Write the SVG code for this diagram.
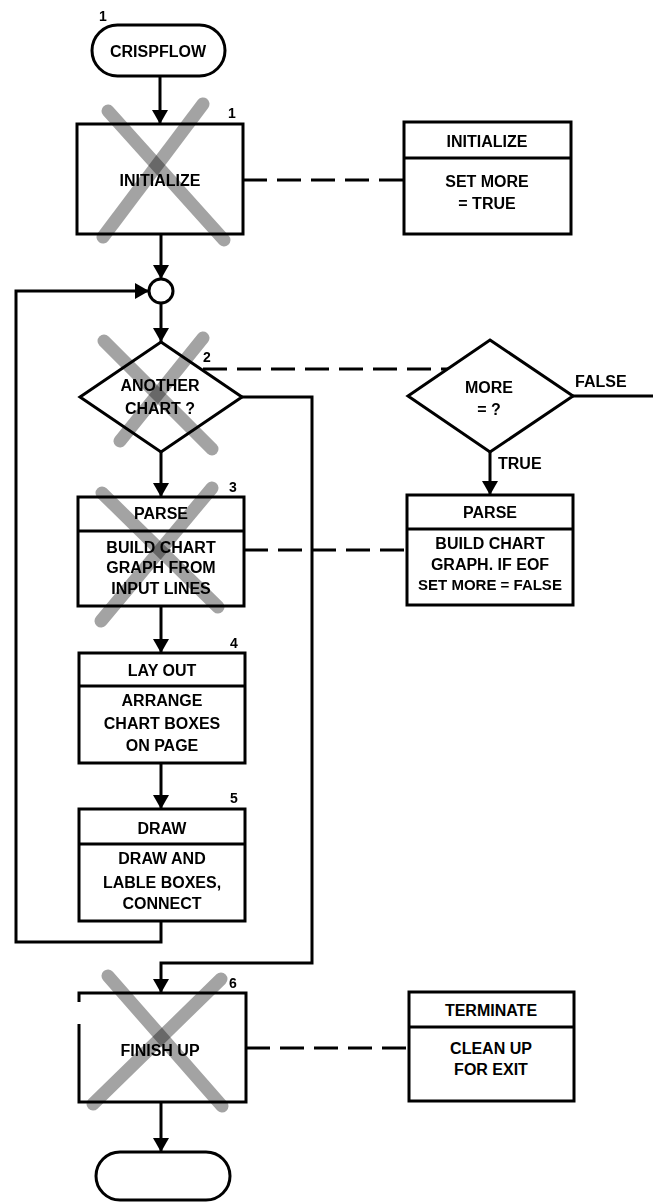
<svg xmlns="http://www.w3.org/2000/svg" width="653" height="1202" viewBox="0 0 653 1202">
<defs>
<style>
.box{fill:#fff;stroke:#000;stroke-width:3}
.ln{fill:none;stroke:#000;stroke-width:3}
.conn{fill:none;stroke:#000;stroke-width:3}
.dash{fill:none;stroke:#000;stroke-width:3;stroke-dasharray:24 10}
.t{font-family:"Liberation Sans",Arial,sans-serif;font-weight:bold;font-size:16px;text-anchor:middle;fill:#000}
.n{font-family:"Liberation Sans",Arial,sans-serif;font-weight:bold;font-size:14px;text-anchor:middle;fill:#000}
.lab{font-family:"Liberation Sans",Arial,sans-serif;font-weight:bold;font-size:16px;text-anchor:start;fill:#000}
.x{fill:none;stroke:#8c8c8c;stroke-width:13;stroke-linecap:round;opacity:0.8;mix-blend-mode:multiply}
</style>
<marker id="arr" viewBox="0 0 14 16" refX="14" refY="8" markerWidth="14" markerHeight="16" orient="auto" markerUnits="userSpaceOnUse">
<path d="M0,0 L14,8 L0,16 z" fill="#000"/>
</marker>
</defs>
<rect width="653" height="1202" fill="#fff"/>

<g id="connectors">
<line class="conn" x1="160" y1="76" x2="160" y2="124" marker-end="url(#arr)"/>
<line class="conn" x1="161" y1="234" x2="161" y2="279" marker-end="url(#arr)"/>
<line class="conn" x1="161" y1="303" x2="161" y2="342" marker-end="url(#arr)"/>
<line class="conn" x1="161" y1="452" x2="161" y2="497" marker-end="url(#arr)"/>
<line class="conn" x1="161" y1="606" x2="161" y2="653" marker-end="url(#arr)"/>
<line class="conn" x1="161" y1="763" x2="161" y2="809" marker-end="url(#arr)"/>
<polyline class="conn" points="161,921 161,942 16,942 16,291 149,291" marker-end="url(#arr)"/>
<polyline class="conn" points="242,397 312,397 312,963 161,963 161,993" marker-end="url(#arr)"/>
<line class="conn" x1="161" y1="1102" x2="161" y2="1152" marker-end="url(#arr)"/>
<line class="conn" x1="490" y1="452" x2="490" y2="495" marker-end="url(#arr)"/>
<line class="conn" x1="573" y1="396" x2="653" y2="396"/>
<line class="dash" x1="243" y1="180" x2="404" y2="180"/>
<line class="dash" x1="203" y1="369" x2="448" y2="369"/>
<line class="dash" x1="244" y1="550" x2="407" y2="550"/>
<line class="dash" x1="246" y1="1048" x2="409" y2="1048"/>
<text class="lab" x="575" y="387">FALSE</text>
<text class="lab" x="498" y="469">TRUE</text>
</g>

<g id="start">
<rect class="box" x="92" y="25" width="133" height="51" rx="25.5"/>
<text class="t" x="158" y="57">CRISPFLOW</text>
<text class="n" x="103" y="21">1</text>
</g>

<g id="initialize">
<rect class="box" x="77" y="124" width="166" height="110"/>
<text class="t" x="160" y="186">INITIALIZE</text>
<text class="n" x="232" y="118">1</text>
<line class="x" x1="108" y1="111" x2="224" y2="240"/>
<line class="x" x1="203" y1="104" x2="103" y2="237"/>
</g>

<g id="initialize-detail">
<rect class="box" x="404" y="122" width="167" height="112"/>
<line class="ln" x1="404" y1="158" x2="571" y2="158"/>
<text class="t" x="487" y="147">INITIALIZE</text>
<text class="t" x="487" y="187">SET MORE</text>
<text class="t" x="487" y="209">= TRUE</text>
</g>

<g id="junction">
<circle class="box" cx="161" cy="291" r="12"/>
</g>

<g id="another-chart">
<polygon class="box" points="161,342 242,397 161,452 80,397"/>
<text class="t" x="160" y="391">ANOTHER</text>
<text class="t" x="160" y="414">CHART ?</text>
<text class="n" x="207" y="362">2</text>
<line class="x" x1="104" y1="341" x2="212" y2="449"/>
<line class="x" x1="203" y1="338" x2="120" y2="441"/>
</g>

<g id="more-decision">
<polygon class="box" points="490,340 573,396 490,452 408,396"/>
<text class="t" x="489" y="393">MORE</text>
<text class="t" x="489" y="415">= ?</text>
</g>

<g id="parse">
<rect class="box" x="78" y="497" width="166" height="109"/>
<line class="ln" x1="78" y1="531" x2="244" y2="531"/>
<text class="t" x="161" y="519">PARSE</text>
<text class="t" x="161" y="553">BUILD CHART</text>
<text class="t" x="161" y="573">GRAPH FROM</text>
<text class="t" x="161" y="594">INPUT LINES</text>
<text class="n" x="233" y="492">3</text>
<line class="x" x1="102" y1="493" x2="218" y2="607"/>
<line class="x" x1="212" y1="488" x2="101" y2="621"/>
</g>

<g id="parse-detail">
<rect class="box" x="407" y="495" width="166" height="110"/>
<line class="ln" x1="407" y1="529" x2="573" y2="529"/>
<text class="t" x="490" y="518">PARSE</text>
<text class="t" x="490" y="549">BUILD CHART</text>
<text class="t" x="490" y="570">GRAPH. IF EOF</text>
<text class="t" x="490" y="590" style="font-size:15px">SET MORE = FALSE</text>
</g>

<g id="layout">
<rect class="box" x="79" y="653" width="166" height="110"/>
<line class="ln" x1="79" y1="686" x2="245" y2="686"/>
<text class="t" x="162" y="676">LAY OUT</text>
<text class="t" x="162" y="706">ARRANGE</text>
<text class="t" x="162" y="729">CHART BOXES</text>
<text class="t" x="162" y="751">ON PAGE</text>
<text class="n" x="234" y="648">4</text>
</g>

<g id="draw">
<rect class="box" x="79" y="809" width="166" height="112"/>
<line class="ln" x1="79" y1="844" x2="245" y2="844"/>
<text class="t" x="162" y="834">DRAW</text>
<text class="t" x="162" y="864">DRAW AND</text>
<text class="t" x="162" y="888">LABLE BOXES,</text>
<text class="t" x="162" y="909">CONNECT</text>
<text class="n" x="234" y="803">5</text>
</g>

<g id="finish-up">
<rect class="box" x="79" y="993" width="167" height="109"/>
<line x1="79" y1="1002" x2="79" y2="1024" stroke="#fff" stroke-width="4"/>
<text class="t" x="160" y="1056">FINISH UP</text>
<text class="n" x="233" y="988">6</text>
<line class="x" x1="108" y1="976" x2="222" y2="1106"/>
<line class="x" x1="221" y1="979" x2="93" y2="1104"/>
</g>

<g id="terminate">
<rect class="box" x="409" y="992" width="165" height="109"/>
<line class="ln" x1="409" y1="1027" x2="574" y2="1027"/>
<text class="t" x="491" y="1016">TERMINATE</text>
<text class="t" x="491" y="1054">CLEAN UP</text>
<text class="t" x="491" y="1075">FOR EXIT</text>
</g>

<g id="end">
<rect class="box" x="96" y="1152" width="134" height="48" rx="24"/>
</g>
</svg>
